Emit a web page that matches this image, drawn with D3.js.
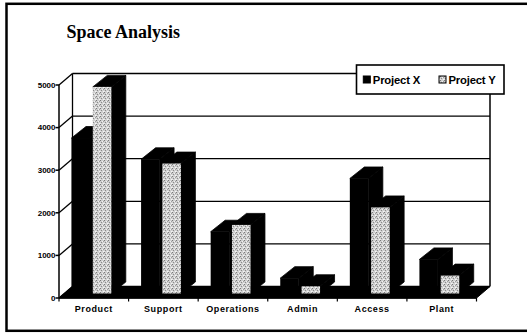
<!DOCTYPE html>
<html>
<head>
<meta charset="utf-8">
<script src="https://cdn.jsdelivr.net/npm/d3@7/dist/d3.min.js"></script>
<style>
  html, body { margin: 0; padding: 0; background: #fff; }
  svg { display: block; }
</style>
</head>
<body>
<script>
// ---- data ----
const categories = ["Product", "Support", "Operations", "Admin", "Access", "Plant"];
const projectX = [3650, 3150, 1450, 360, 2700, 800];
const projectY = [4850, 3050, 1610, 170, 2020, 420];
const yTicks = [0, 1000, 2000, 3000, 4000, 5000];
const seriesNames = ["Project X", "Project Y"];
const titleText = "Space Analysis";

// ---- layout ----
const W = 527, H = 333;
const floorL = 59, floorR = 476.5, floorY = 298;
const wallDX = 13.5, wallDY = -11.5;
const barDX = 14.5, barDY = -11.5;

const svg = d3.select("body").append("svg").attr("width", W).attr("height", H);

const defs = svg.append("defs");
const pat = defs.append("pattern").attr("id", "stip").attr("patternUnits", "userSpaceOnUse")
  .attr("width", 4).attr("height", 4);
pat.append("rect").attr("width", 4).attr("height", 4).attr("fill", "#cfcfcf");
[[0,0,"#7a7a7a"],[2,1,"#f2f2f2"],[1,2,"#8a8a8a"],[3,3,"#f5f5f5"],[3,1,"#a0a0a0"],[0,3,"#e8e8e8"]]
  .forEach(([px,py,c]) => pat.append("rect").attr("x",px).attr("y",py).attr("width",1).attr("height",1).attr("fill",c));

// scales
const x = d3.scaleBand().domain(categories).range([floorL, floorR]).padding(0);
const xs = d3.scaleBand().domain(seriesNames).range([12.5, 52.3]).paddingInner(0.131).paddingOuter(0);
const yAxis = d3.scaleLinear().domain([0, 5000]).range([floorY, 85]);
const yBar = d3.scaleLinear().domain([0, 5000]).range([293.5, 80.5]);

const ink = "#000";

// back wall gridlines
const g = svg.append("g");
yTicks.forEach(v => {
  const yb = yAxis(v) + wallDY;
  g.append("line").attr("x1", floorL + wallDX).attr("x2", floorR + wallDX)
    .attr("y1", yb).attr("y2", yb).attr("stroke", ink).attr("stroke-width", 1.3);
  // left wall diagonals
  g.append("line").attr("x1", floorL).attr("y1", yAxis(v))
    .attr("x2", floorL + wallDX).attr("y2", yb).attr("stroke", ink).attr("stroke-width", 1.3);
});
// back wall left and right edges
g.append("line").attr("x1", floorL + wallDX).attr("x2", floorL + wallDX)
  .attr("y1", yAxis(5000) + wallDY).attr("y2", floorY + wallDY).attr("stroke", ink).attr("stroke-width", 1.3);
g.append("line").attr("x1", floorR + wallDX).attr("x2", floorR + wallDX)
  .attr("y1", yAxis(5000) + wallDY).attr("y2", floorY + wallDY).attr("stroke", ink).attr("stroke-width", 1.5);

// floor
g.append("polygon").attr("points", [
  [floorL, floorY], [floorR, floorY], [floorR + wallDX, floorY + wallDY], [floorL + wallDX, floorY + wallDY]
].map(p => p.join(",")).join(" ")).attr("fill", ink).attr("stroke", ink).attr("stroke-width", 1);

// bars
function bar(x0, w, yTop, yBot, frontFill) {
  const bg = svg.append("g");
  bg.append("polygon").attr("points", [
    [x0 + w, yTop], [x0 + w + barDX, yTop + barDY], [x0 + w + barDX, yBot + barDY], [x0 + w, yBot]
  ].map(p => p.join(",")).join(" ")).attr("fill", ink).attr("stroke", ink).attr("stroke-width", 0.8);
  bg.append("polygon").attr("points", [
    [x0, yTop], [x0 + w, yTop], [x0 + w + barDX, yTop + barDY], [x0 + barDX, yTop + barDY]
  ].map(p => p.join(",")).join(" ")).attr("fill", ink).attr("stroke", ink).attr("stroke-width", 0.8);
  bg.append("rect").attr("x", x0).attr("y", yTop).attr("width", w).attr("height", yBot - yTop)
    .attr("fill", frontFill);
}
categories.forEach((c, i) => {
  const b = x(c);
  bar(b + xs("Project X"), xs.bandwidth(), yBar(projectX[i]), yBar(0), ink);
  bar(b + xs("Project Y"), xs.bandwidth(), yBar(projectY[i]), yBar(0), "url(#stip)");
});

// front axis
svg.append("line").attr("x1", floorL).attr("x2", floorL).attr("y1", yAxis(5000)).attr("y2", floorY)
  .attr("stroke", ink).attr("stroke-width", 1.5);
yTicks.forEach(v => {
  svg.append("line").attr("x1", floorL - 3.5).attr("x2", floorL).attr("y1", yAxis(v)).attr("y2", yAxis(v))
    .attr("stroke", ink).attr("stroke-width", 1.5);
  svg.append("text").attr("x", floorL - 3.5).attr("y", yAxis(v)).attr("dy", "0.35em")
    .attr("text-anchor", "end").attr("font-family", "Liberation Sans, Arial, sans-serif")
    .attr("font-weight", "bold").attr("font-size", 8).attr("fill", ink).text(v);
});
// floor front edge and category ticks
svg.append("line").attr("x1", floorL).attr("x2", floorR).attr("y1", floorY).attr("y2", floorY)
  .attr("stroke", ink).attr("stroke-width", 1.5);
categories.forEach((c, i) => {
  svg.append("line").attr("x1", x(c)).attr("x2", x(c)).attr("y1", floorY).attr("y2", floorY + 3.5)
    .attr("stroke", ink).attr("stroke-width", 1.2);
  svg.append("text").attr("x", x(c) + x.bandwidth() / 2).attr("y", 311.5)
    .attr("text-anchor", "middle").attr("font-family", "Liberation Sans, Arial, sans-serif")
    .attr("font-weight", "bold").attr("font-size", 9).attr("letter-spacing", 0.6)
    .attr("fill", ink).text(c);
});
svg.append("line").attr("x1", floorR).attr("x2", floorR).attr("y1", floorY).attr("y2", floorY + 3.5)
  .attr("stroke", ink).attr("stroke-width", 1.2);

// legend
const lg = svg.append("g");
lg.append("rect").attr("x", 356.5).attr("y", 65).attr("width", 147.5).attr("height", 29)
  .attr("fill", "#fff").attr("stroke", ink).attr("stroke-width", 1.6);
const legendX = [363.3, 439];
seriesNames.forEach((s, i) => {
  lg.append("rect").attr("x", legendX[i]).attr("y", 76).attr("width", 7).attr("height", 7)
    .attr("fill", i === 0 ? ink : "url(#stip)").attr("stroke", ink).attr("stroke-width", 1);
  lg.append("text").attr("x", legendX[i] + 9.5).attr("y", 83.5)
    .attr("font-family", "Liberation Sans, Arial, sans-serif").attr("font-weight", "bold")
    .attr("font-size", 11.3).attr("letter-spacing", -0.2).attr("fill", ink).text(s);
});

// title
svg.append("text").attr("x", 66.5).attr("y", 37.5)
  .attr("font-family", "Liberation Serif, Times New Roman, serif").attr("font-weight", "bold")
  .attr("font-size", 18).attr("fill", ink).text(titleText);

// outer border
svg.append("rect").attr("x", 6.5).attr("y", 3.8).attr("width", 530).attr("height", 327)
  .attr("fill", "none").attr("stroke", ink).attr("stroke-width", 2.5);
</script>
</body>
</html>
